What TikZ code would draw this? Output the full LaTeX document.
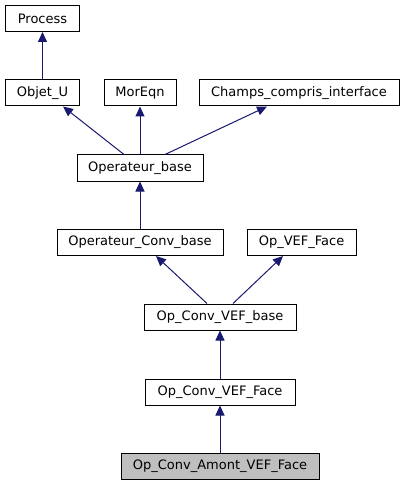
\documentclass[tikz,border=0pt]{standalone}
\usepackage{fontspec}
\setmainfont{DejaVu Sans}
\usetikzlibrary{arrows.meta}
\definecolor{edgecol}{HTML}{191970}
\begin{document}
\begin{tikzpicture}[x=1bp,y=-1bp,
  cls/.style={draw=black,line width=1bp,fill=white,minimum height=26bp,inner sep=0pt,font=\fontsize{13bp}{15bp}\selectfont},
  edge/.style={draw=edgecol,line width=1bp,-{Triangle[length=10bp,width=9bp]}}]
\useasboundingbox (0,0) rectangle (403,485);
\node[cls,minimum width=73bp] (process) at (42.5,18.5) {Process};
\node[cls,minimum width=73bp] (objet) at (42.5,93) {Objet\_U};
\node[cls,minimum width=72bp] (moreqn) at (140,93) {MorEqn};
\node[cls,minimum width=200bp] (champs) at (299,93) {Champs\_compris\_interface};
\node[cls,minimum width=126bp] (opb) at (140,168) {Operateur\_base};
\node[cls,minimum width=166bp] (opcb) at (140,242.5) {Operateur\_Conv\_base};
\node[cls,minimum width=109bp] (opvef) at (301.5,242.5) {Op\_VEF\_Face};
\node[cls,minimum width=152bp] (opcvb) at (220,317) {Op\_Conv\_VEF\_base};
\node[cls,minimum width=150bp] (opcvf) at (220,392) {Op\_Conv\_VEF\_Face};
\node[cls,minimum width=198bp,fill={rgb,255:red,191;green,191;blue,191}] (amont) at (220,466) {Op\_Conv\_Amont\_VEF\_Face};
\draw[edge] (objet.north) -- (process.south);
\draw[edge] ([xshift=-16bp]opb.north) -- ([xshift=20.5bp]objet.south);
\draw[edge] (opb.north) -- (moreqn.south);
\draw[edge] ([xshift=25bp]opb.north) -- ([xshift=-32bp]champs.south);
\draw[edge] (opcb.north) -- (opb.south);
\draw[edge] ([xshift=-13bp]opcvb.north) -- ([xshift=16bp]opcb.south);
\draw[edge] ([xshift=13bp]opcvb.north) -- ([xshift=-18.5bp]opvef.south);
\draw[edge] (opcvf.north) -- (opcvb.south);
\draw[edge] (amont.north) -- (opcvf.south);
\end{tikzpicture}
\end{document}
